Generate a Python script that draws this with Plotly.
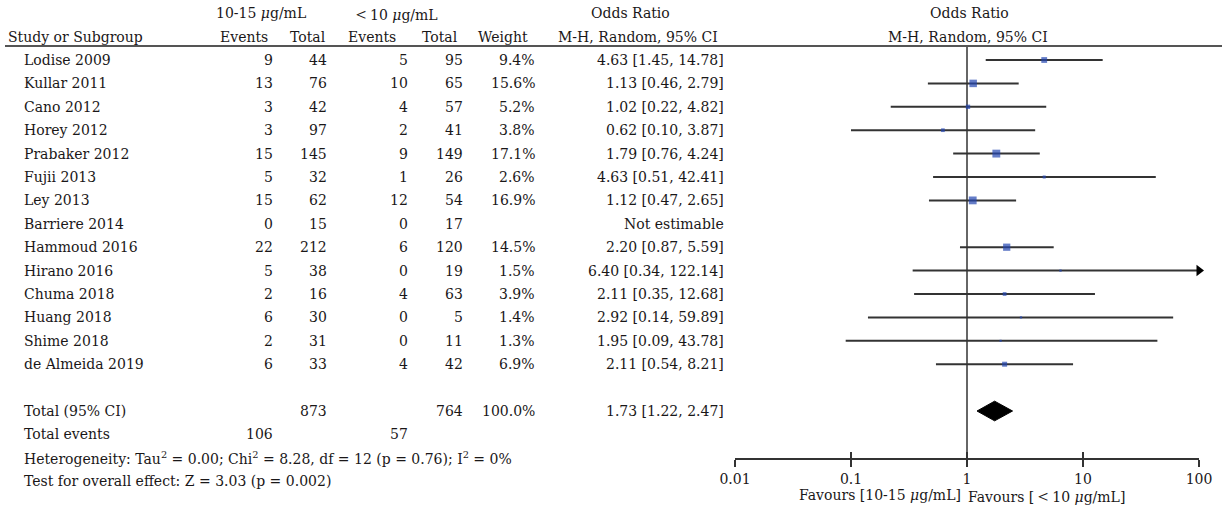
import math
import plotly.graph_objects as go

# ---------------- data ----------------
studies = ["Lodise 2009", "Kullar 2011", "Cano 2012", "Horey 2012", "Prabaker 2012",
           "Fujii 2013", "Ley 2013", "Barriere 2014", "Hammoud 2016", "Hirano 2016",
           "Chuma 2018", "Huang 2018", "Shime 2018", "de Almeida 2019"]
events_a = [9, 13, 3, 3, 15, 5, 15, 0, 22, 5, 2, 6, 2, 6]
total_a = [44, 76, 42, 97, 145, 32, 62, 15, 212, 38, 16, 30, 31, 33]
events_b = [5, 10, 4, 2, 9, 1, 12, 0, 6, 0, 4, 0, 0, 4]
total_b = [95, 65, 57, 41, 149, 26, 54, 17, 120, 19, 63, 5, 11, 42]
weights = [9.4, 15.6, 5.2, 3.8, 17.1, 2.6, 16.9, None, 14.5, 1.5, 3.9, 1.4, 1.3, 6.9]
odds = [4.63, 1.13, 1.02, 0.62, 1.79, 4.63, 1.12, None, 2.20, 6.40, 2.11, 2.92, 1.95, 2.11]
ci_low = [1.45, 0.46, 0.22, 0.10, 0.76, 0.51, 0.47, None, 0.87, 0.34, 0.35, 0.14, 0.09, 0.54]
ci_high = [14.78, 2.79, 4.82, 3.87, 4.24, 42.41, 2.65, None, 5.59, 122.14, 12.68, 59.89, 43.78, 8.21]

total_n_a, total_n_b = 873, 764
total_ev_a, total_ev_b = 106, 57
pooled_or, pooled_lo, pooled_hi = 1.73, 1.22, 2.47
heterogeneity = "Heterogeneity: Tau<sup>2</sup> = 0.00; Chi<sup>2</sup> = 8.28, df = 12 (p = 0.76); I<sup>2</sup> = 0%"
overall_test = "Test for overall effect: Z = 3.03 (p = 0.002)"
tick_vals = [0.01, 0.1, 1, 10, 100]
tick_text = ["0.01", "0.1", "1", "10", "100"]
group_a = "10-15 <i>μ</i>g/mL"
group_b = "<span style='font-size:18px'>＜</span>10 <i>μ</i>g/mL"

# ---------------- layout geometry ----------------
W, H = 1229, 509
ROW0, DY = 60.0, 23.4          # pixel of first row, row spacing
FONT = "DejaVu Serif"
FS = 14
TXT = "#1a1718"
LINE = "#333333"
BLUE = "#2446b0"


def row_of(px):
    return (px - ROW0) / DY


def px(x):
    return x / W


annotations = []


def text(x, i, s, anchor="right", size=FS):
    annotations.append(dict(x=px(x), xref="paper", y=i, yref="y", text=s,
                            showarrow=False, xanchor=anchor, yanchor="middle",
                            borderpad=0, borderwidth=0,
                            font=dict(family=FONT, size=size, color=TXT)))


# headers
text(261, -2, group_a, "center")
text(395, -2, group_b, "center")
text(630, -2, "Odds Ratio", "center")
text(969, -2, "Odds Ratio", "center")
text(8, -1, "Study or Subgroup", "left")
text(268, -1, "Events")
text(326, -1, "Total")
text(396, -1, "Events")
text(458, -1, "Total")
text(528, -1, "Weight")
text(638, -1, "M-H, Random, 95% CI", "center")
text(968, -1, "M-H, Random, 95% CI", "center")

# study rows
for i, name in enumerate(studies):
    text(24, i, name, "left")
    text(273, i, str(events_a[i]))
    text(327, i, str(total_a[i]))
    text(408, i, str(events_b[i]))
    text(463, i, str(total_b[i]))
    if weights[i] is not None:
        text(535, i, f"{weights[i]:.1f}%")
    if odds[i] is None:
        text(724, i, "Not estimable")
    else:
        text(724, i, f"{odds[i]:.2f} [{ci_low[i]:.2f}, {ci_high[i]:.2f}]")

n = len(studies)
r_tot = n + 1
text(24, r_tot, "Total (95% CI)", "left")
text(327, r_tot, str(total_n_a))
text(463, r_tot, str(total_n_b))
text(535, r_tot, "100.0%")
text(724, r_tot, f"{pooled_or:.2f} [{pooled_lo:.2f}, {pooled_hi:.2f}]")
text(24, r_tot + 1, "Total events", "left")
text(273, r_tot + 1, str(total_ev_a))
text(408, r_tot + 1, str(total_ev_b))
text(24, r_tot + 2, heterogeneity, "left")
text(24, r_tot + 3, overall_test, "left")

# favours labels
text(961, row_of(495), "Favours [" + group_a + "]", "right")
text(968, row_of(495), "Favours [" + group_b + "]", "left")

fig = go.Figure()

XMAX = tick_vals[-1]
# CI lines
for i in range(n):
    if odds[i] is None:
        continue
    fig.add_trace(go.Scatter(x=[ci_low[i], min(ci_high[i], XMAX)], y=[i, i], mode="lines",
                             line=dict(color=LINE, width=2), xaxis="x2", yaxis="y",
                             hoverinfo="skip", showlegend=False))

# arrows for truncated CIs
arr_x = [XMAX for i in range(n) if odds[i] is not None and ci_high[i] > XMAX]
arr_y = [i for i in range(n) if odds[i] is not None and ci_high[i] > XMAX]
fig.add_trace(go.Scatter(x=arr_x, y=arr_y, mode="markers", cliponaxis=False,
                         marker=dict(symbol="triangle-right", size=10, color="black"),
                         xaxis="x2", yaxis="y", hoverinfo="skip", showlegend=False))

# vertical line of no effect
fig.add_trace(go.Scatter(x=[1, 1], y=[row_of(46), row_of(459)], mode="lines",
                         line=dict(color=LINE, width=1.5), xaxis="x2", yaxis="y",
                         hoverinfo="skip", showlegend=False))

# weight squares
sx = [odds[i] for i in range(n) if odds[i] is not None]
sy = [i for i in range(n) if odds[i] is not None]
ss = [1.9 * math.sqrt(weights[i]) for i in range(n) if odds[i] is not None]
fig.add_trace(go.Scatter(x=sx, y=sy, mode="markers",
                         marker=dict(symbol="square", size=ss, color=BLUE, line=dict(width=0)),
                         xaxis="x2", yaxis="y", hoverinfo="skip", showlegend=False))

# pooled diamond
hh = 0.42
fig.add_trace(go.Scatter(x=[pooled_lo, pooled_or, pooled_hi, pooled_or, pooled_lo],
                         y=[r_tot, r_tot - hh, r_tot, r_tot + hh, r_tot],
                         mode="lines", fill="toself", fillcolor="black",
                         line=dict(color="black", width=1), xaxis="x2", yaxis="y",
                         hoverinfo="skip", showlegend=False))

# invisible trace for overlay axis (upper tick halves)
fig.add_trace(go.Scatter(x=[1], y=[0], mode="markers", marker=dict(opacity=0),
                         xaxis="x3", yaxis="y", hoverinfo="skip", showlegend=False))

axis_pos = (H - 459) / H
common_x = dict(type="log", range=[-2, 2], showgrid=False, zeroline=False,
                tickvals=tick_vals, ticktext=tick_text, tickcolor=LINE, tickwidth=2,
                ticklen=7)

fig.update_layout(
    width=W, height=H, autosize=False,
    margin=dict(l=0, r=0, t=0, b=0, pad=0, autoexpand=False),
    paper_bgcolor="white", plot_bgcolor="white",
    showlegend=False,
    xaxis=dict(visible=False),
    xaxis2=dict(**common_x, domain=[735 / W, 1199 / W], anchor="free", position=axis_pos,
                showline=True, linecolor=LINE, linewidth=2, ticks="outside",
                tickfont=dict(family=FONT, size=FS, color=TXT)),
    xaxis3=dict(**common_x, overlaying="x2", anchor="free", position=axis_pos,
                showline=False, ticks="inside", showticklabels=False),
    yaxis=dict(range=[row_of(H), row_of(0)], domain=[0, 1], anchor="x2", visible=False,
               showgrid=False, zeroline=False),
    annotations=annotations,
    shapes=[dict(type="line", xref="paper", yref="y", x0=px(5), x1=px(1222),
                 y0=row_of(46), y1=row_of(46), line=dict(color="#555555", width=2))],
)

fig.write_html("out.html", config={"responsive": False, "displayModeBar": False},
               post_script="document.body.style.margin='0';document.body.style.overflow='hidden';")
